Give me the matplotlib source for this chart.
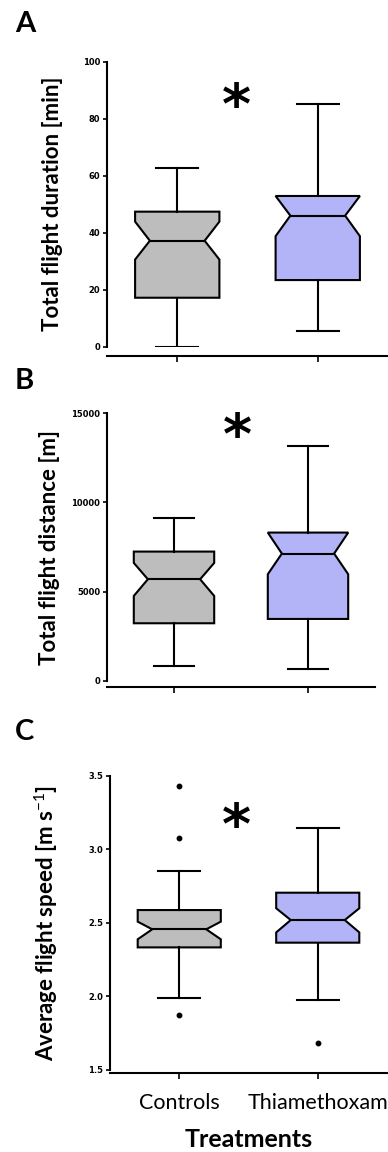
import matplotlib
matplotlib.use("Agg")
import matplotlib.pyplot as plt
from matplotlib.path import Path

plt.rcParams["font.family"] = ["Lato", "DejaVu Sans"]
plt.rcParams["mathtext.fontset"] = "custom"
plt.rcParams["mathtext.rm"] = "Lato"
plt.rcParams["mathtext.bf"] = "Lato:bold"

# Datos
grupos = ["Controls", "Thiamethoxam"]
colores = ["#bdbdbd", "#b3b3f7"]

# A: duracion total de vuelo [min]
dur_whislo = [0.0, 5.5]
dur_q1 = [17.2, 23.4]
dur_med = [37.2, 46.0]
dur_q3 = [47.4, 52.9]
dur_whishi = [62.8, 85.0]
dur_cilo = [30.6, 38.8]
dur_cihi = [43.9, 52.9]
dur_fliers = [[], []]

# B: distancia total de vuelo [m]
dist_whislo = [859, 672]
dist_q1 = [3232, 3474]
dist_med = [5697, 7136]
dist_q3 = [7248, 8313]
dist_whishi = [9153, 13188]
dist_cilo = [4763, 5978]
dist_cihi = [6613, 8313]
dist_fliers = [[], []]

# C: velocidad media [m s-1]
vel_whislo = [1.992, 1.976]
vel_q1 = [2.334, 2.366]
vel_med = [2.457, 2.520]
vel_q3 = [2.588, 2.706]
vel_whishi = [2.854, 3.149]
vel_cilo = [2.389, 2.436]
vel_cihi = [2.509, 2.600]
vel_fliers = [[3.432, 3.080, 1.874], [1.681]]


def stats(whislo, q1, med, q3, whishi, cilo, cihi, fliers):
    return [
        dict(whislo=whislo[i], q1=q1[i], med=med[i], q3=q3[i], whishi=whishi[i],
             cilo=cilo[i], cihi=cihi[i], fliers=fliers[i], label=grupos[i])
        for i in range(len(grupos))
    ]


paneles = [
    dict(letra="A", ylabel="Total flight duration [min]",
         st=stats(dur_whislo, dur_q1, dur_med, dur_q3, dur_whishi, dur_cilo, dur_cihi, dur_fliers),
         ylim=(0, 100), ticks=[0, 20, 40, 60, 80, 100],
         rect=[107 / 388, 0.699, 281 / 388, 0.2474], off=6.7, star=(1.42, 87.6),
         ly=24, lx=-0.158),
    dict(letra="B", ylabel="Total flight distance [m]",
         st=stats(dist_whislo, dist_q1, dist_med, dist_q3, dist_whishi, dist_cilo, dist_cihi, dist_fliers),
         ylim=(0, 15000), ticks=[0, 5000, 10000, 15000],
         rect=[107 / 388, 0.4089, 268 / 388, 0.2324], off=4.1, star=(1.47, 14176),
         ly=381, lx=-0.175),
    dict(letra="C", ylabel="Average flight speed [m s$^{\\mathrm{-1}}$]",
         st=stats(vel_whislo, vel_q1, vel_med, vel_q3, vel_whishi, vel_cilo, vel_cihi, vel_fliers),
         ylim=(1.5, 3.5), ticks=[1.5, 2.0, 2.5, 3.0, 3.5],
         rect=[110 / 388, 0.0712, 277 / 388, 0.2552], off=2.4, star=(1.41, 3.22),
         ly=732, lx=-0.18),
]

posiciones = [1, 2]
ancho = 0.6
ancho_muesca = 0.65  # fraccion del ancho de caja en la mediana

fig = plt.figure(figsize=(3.88, 11.52), dpi=100)

for p in paneles:
    ax = fig.add_axes(p["rect"])
    bp = ax.bxp(
        p["st"], positions=posiciones, widths=ancho, shownotches=True, patch_artist=True,
        boxprops=dict(edgecolor="black", linewidth=1.5),
        medianprops=dict(color="black", linewidth=1.5),
        whiskerprops=dict(color="black", linewidth=1.5),
        capprops=dict(color="black", linewidth=1.5),
        flierprops=dict(marker="o", markerfacecolor="black", markeredgecolor="black",
                        markersize=3.2, linestyle="none"),
    )
    for caja, med, c, x0 in zip(bp["boxes"], bp["medians"], colores, posiciones):
        caja.set_facecolor(c)
        # muesca mas ancha (estilo GraphPad)
        verts = caja.get_path().vertices.copy()
        verts[3, 0] = x0 + ancho * ancho_muesca / 2
        verts[8, 0] = x0 - ancho * ancho_muesca / 2
        caja.set_path(Path(verts, caja.get_path().codes))
        med.set_xdata([x0 - ancho * ancho_muesca / 2, x0 + ancho * ancho_muesca / 2])

    ax.set_xlim(0.5, 2.5)
    ax.set_ylim(*p["ylim"])
    ax.set_yticks(p["ticks"])
    ax.set_xticks(posiciones)
    ax.tick_params(axis="y", length=3, width=1.2, pad=2)
    ax.tick_params(axis="x", length=4, width=1.2, pad=10, labelsize=15.5)
    if p["letra"] == "C":
        ax.set_yticklabels([f"{t:.1f}" for t in p["ticks"]])
        ax.set_xticklabels(grupos)
        ax.set_xlabel("Treatments", fontsize=18, fontweight="bold", labelpad=11)
    else:
        ax.set_xticklabels([])

    for lab in ax.get_yticklabels():
        lab.set_fontfamily("DejaVu Sans")
        lab.set_fontweight("bold")
        lab.set_fontsize(6)

    ax.spines["top"].set_visible(False)
    ax.spines["right"].set_visible(False)
    ax.spines["left"].set_linewidth(1.5)
    ax.spines["bottom"].set_linewidth(1.5)
    ax.spines["bottom"].set_position(("outward", p["off"]))
    ax.patch.set_alpha(0)

    ax.set_ylabel(p["ylabel"], fontsize=16, fontweight="bold")
    ax.yaxis.set_label_coords(p["lx"], 0.5)

    ax.annotate("*", xy=p["star"], xytext=(0, -7.6), textcoords="offset points",
                fontsize=40, fontweight="bold", ha="center", va="center",
                family="DejaVu Sans")

    fig.text(15 / 388, 1 - p["ly"] / 1152, p["letra"], fontsize=21, fontweight="bold",
             ha="left", va="center")

fig.savefig("out.png", dpi=100)
